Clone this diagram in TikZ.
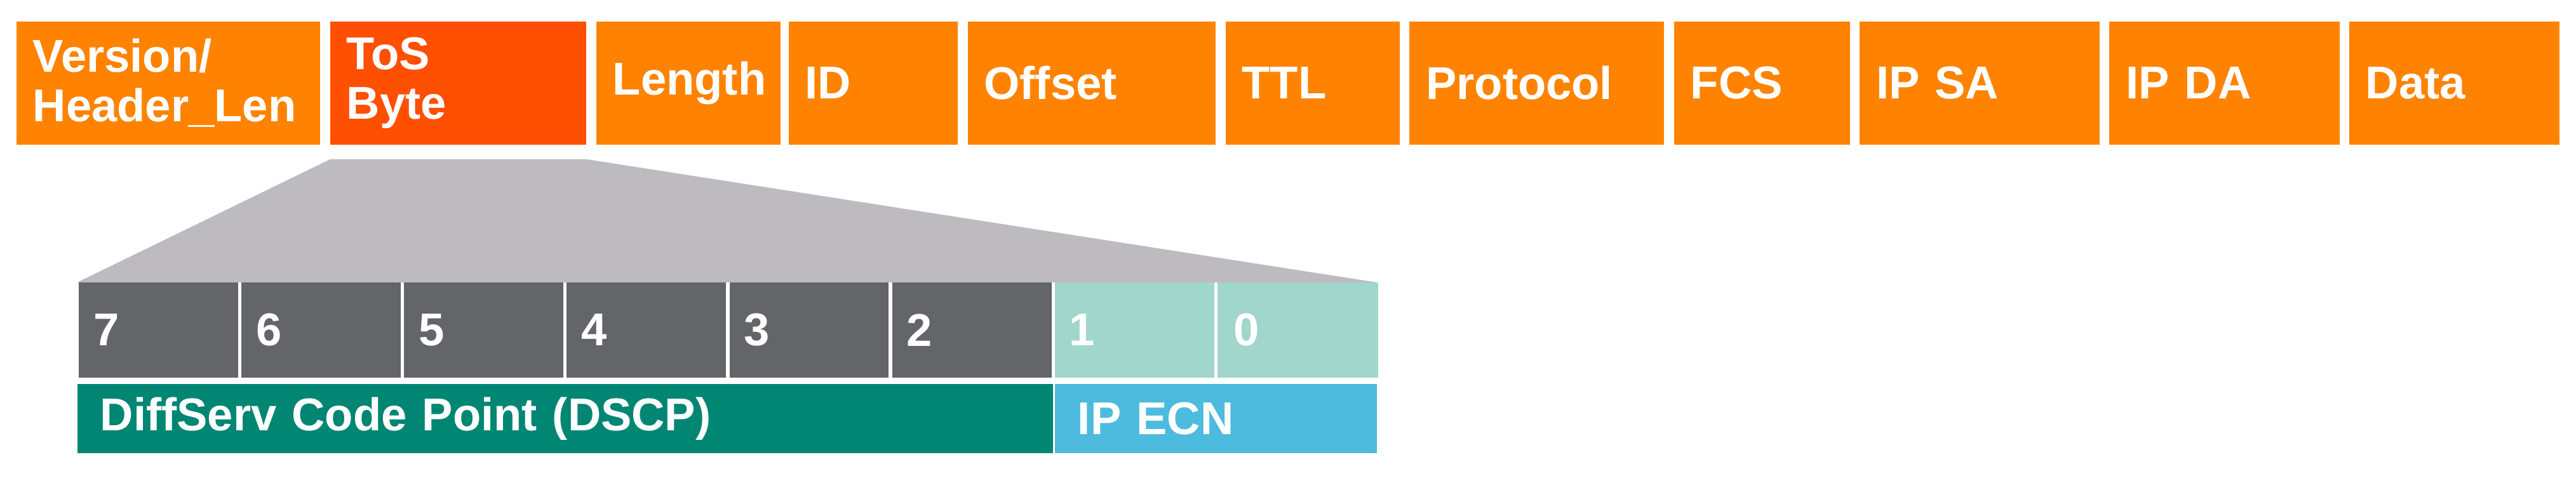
\documentclass[tikz,border=0pt]{standalone}
\usepackage{fontspec}
\setmainfont{Liberation Sans}
\usetikzlibrary{positioning}
\definecolor{hdrorange}{HTML}{FF8300}
\definecolor{tosred}{HTML}{FF4F00}
\definecolor{bitgray}{HTML}{646569}
\definecolor{ecnlight}{HTML}{A0D6CB}
\definecolor{dscpteal}{HTML}{008673}
\definecolor{ecnblue}{HTML}{4DBBDD}
\definecolor{zoomgray}{HTML}{BDBBBF}
\begin{document}
\begin{tikzpicture}[x=0.5pt, y=-0.5pt, font=\fontsize{14}{15}\selectfont\bfseries,
    every node/.style={outer sep=0pt, inner sep=0pt, anchor=north west, text=white},
    field/.style={fill=hdrorange, minimum height=37.5pt, text width=#1*0.5pt-10pt, minimum width=#1*0.5pt, align=left, inner xsep=5pt},
    bit/.style={fill=bitgray, minimum width=49pt, minimum height=29pt, inner xsep=5pt, text width=39pt, align=left}]
    \useasboundingbox (0,0) rectangle (1568,294);

    % header fields
    \node[field=185] (ver) at (10,13) {Version/\\Header\_Len};
    \node[field=156, fill=tosred] (tos) at (201,13) {ToS\\Byte};
    \node[field=112] (len) at (363,13) {Length};
    \node[field=103] (id) at (480,13) {ID};
    \node[field=151] (off) at (589,13) {Offset};
    \node[field=106] (ttl) at (746,13) {TTL};
    \node[field=155] (proto) at (858,13) {Protocol};
    \node[field=107] (fcs) at (1019,13) {FCS};
    \node[field=146] (sa) at (1132,13) {IP SA};
    \node[field=140] (da) at (1284,13) {IP DA};
    \node[field=128] (data) at (1430,13) {Data};

    % zoom trapezoid
    \coordinate (zl) at (201,97);
    \coordinate (zr) at (357,97);
    \fill[zoomgray] (zl) -- (zr) -- (838,172) -- (47,172) -- cycle;

    % bits
    \foreach \b [count=\i from 0] in {7,6,5,4,3,2} {
        \node[bit] (b\b) at (47+\i*99,172) {\b};
        \draw[white, line width=1pt] (47+\i*99,172) -- (47+\i*99,230);
    }
    \node[bit, fill=ecnlight] (b1) at (641,172) {1};
    \node[bit, fill=ecnlight, minimum width=48.5pt] (b0) at (741,172) {0};
    \draw[white, line width=1pt] (641,172) -- (641,275);
    \draw[white, line width=1pt] (740,172) -- (740,230);

    % code point fields
    \node[fill=dscpteal, minimum width=297pt, minimum height=21pt, inner xsep=7pt, text width=283pt, align=left] (dscp) at (47,234) {DiffServ Code Point (DSCP)};
    \node[fill=ecnblue, minimum width=98pt, minimum height=21pt, inner xsep=7pt, text width=84pt, align=left] (ecn) at (642,234) {IP ECN};
\end{tikzpicture}
\end{document}
